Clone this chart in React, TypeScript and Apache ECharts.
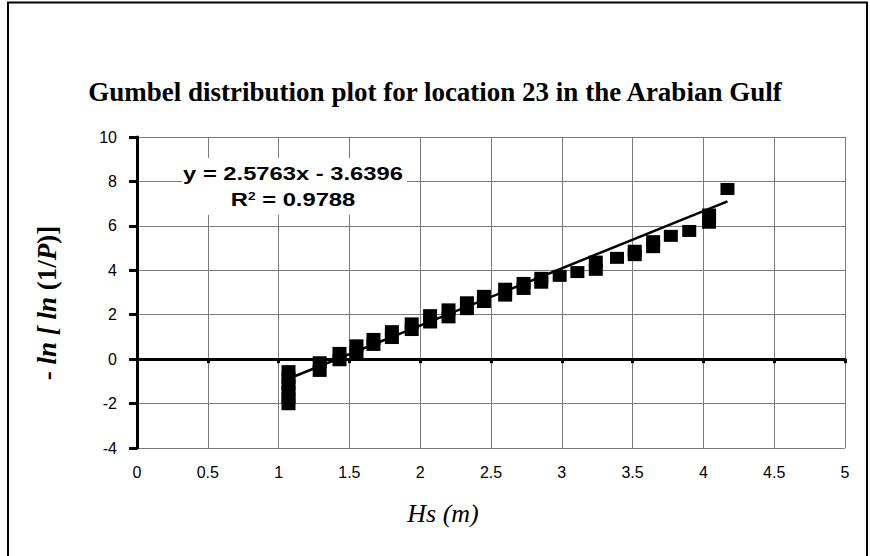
import React, { useEffect, useRef } from "react";
import * as echarts from "echarts";

// ---- data ----
const hsValues = [
  1.07, 1.07, 1.07, 1.07, 1.07, 1.07,
  1.29, 1.29, 1.43, 1.43, 1.55, 1.55, 1.67, 1.67, 1.8, 1.8,
  1.94, 1.94, 2.07, 2.07, 2.2, 2.2, 2.33, 2.33, 2.45, 2.45,
  2.6, 2.6, 2.73, 2.73, 2.855, 2.855, 2.985, 3.11, 3.24, 3.24,
  3.39, 3.515, 3.515, 3.645, 3.645, 3.77, 3.9, 4.04, 4.04, 4.17,
];
const gumbelValues = [
  -0.54, -0.85, -1.15, -1.45, -1.75, -2.03,
  -0.14, -0.53, 0.28, -0.05, 0.62, 0.26, 0.91, 0.64, 1.26, 0.95,
  1.61, 1.31, 1.98, 1.65, 2.24, 1.88, 2.56, 2.25, 2.85, 2.57,
  3.17, 2.86, 3.43, 3.16, 3.66, 3.44, 3.75, 3.92, 4.39, 4.02,
  4.56, 4.88, 4.68, 5.31, 5.04, 5.55, 5.77, 6.51, 6.14, 7.66,
];
const trendSlope = 2.5763;
const trendIntercept = -3.6396;
const trendXRange = [1.07, 4.17];
const equationText = "y = 2.5763x - 3.6396";
const r2Value = "0.9788";
const xAxisTicks = { min: 0, max: 5, step: 0.5 };
const yAxisTicks = { min: -4, max: 10, step: 2 };
const titleText = "Gumbel distribution plot for location 23 in the Arabian Gulf";
const xAxisName = "Hs (m)";

const SANS = "'Liberation Sans', Arial, sans-serif";
const SERIF = "'Liberation Serif', 'Times New Roman', serif";

export default function App() {
  const ref = useRef<HTMLDivElement>(null);

  useEffect(() => {
    if (!ref.current) return;
    const chart = echarts.init(ref.current, undefined, { renderer: "svg" });

    const points = hsValues.map((x, i) => [x, gumbelValues[i]]);
    const trend = trendXRange.map((x) => [x, trendSlope * x + trendIntercept]);

    chart.setOption({
      animation: false,
      backgroundColor: "#ffffff",
      title: {
        text: titleText,
        left: "center",
        top: 78,
        padding: 0,
        textStyle: {
          fontFamily: SERIF,
          fontWeight: "bold",
          fontSize: 27,
          color: "#000",
        },
      },
      grid: {
        left: 137,
        top: 137,
        right: 25,
        bottom: 108,
        containLabel: false,
      },
      xAxis: [
        {
          type: "value",
          min: xAxisTicks.min,
          max: xAxisTicks.max,
          interval: xAxisTicks.step,
          position: "bottom",
          axisLine: { show: false, onZero: false },
          axisTick: { show: false },
          axisLabel: {
            margin: 16,
            fontFamily: SANS,
            fontSize: 16,
            color: "#000",
          },
          splitLine: { show: true, lineStyle: { color: "#7a7a7a", width: 1 } },
        },
        {
          type: "value",
          min: xAxisTicks.min,
          max: xAxisTicks.max,
          interval: xAxisTicks.step,
          position: "bottom",
          axisLine: { show: true, onZero: true, lineStyle: { color: "#000", width: 3 } },
          axisTick: { show: true, inside: false, length: 4, lineStyle: { color: "#000", width: 3 } },
          axisLabel: { show: false },
          splitLine: { show: false },
        },
      ],
      yAxis: {
        type: "value",
        min: yAxisTicks.min,
        max: yAxisTicks.max,
        interval: yAxisTicks.step,
        axisLine: { show: true, onZero: false, lineStyle: { color: "#000", width: 3 } },
        axisTick: { show: true, inside: false, length: 8, lineStyle: { color: "#000", width: 3 } },
        axisLabel: {
          margin: 20,
          fontFamily: SANS,
          fontSize: 16,
          color: "#000",
        },
        splitLine: { show: true, lineStyle: { color: "#7a7a7a", width: 1 } },
      },
      series: [
        {
          type: "scatter",
          data: points,
          symbol: "rect",
          symbolSize: [14, 12],
          itemStyle: { color: "#000", opacity: 1 },
          z: 3,
        },
        {
          type: "line",
          data: trend,
          showSymbol: false,
          symbol: "none",
          lineStyle: { color: "#000", width: 2.5 },
          z: 4,
        },
      ],
      graphic: [
        {
          type: "polyline",
          shape: { points: [[8, 556], [8, 2.5], [867, 2.5], [867, 556]] },
          style: { stroke: "#000", lineWidth: 2, fill: null },
          silent: true,
        },
        {
          type: "rect",
          z: 100,
          shape: { x: 182, y: 158, width: 225, height: 57 },
          style: { fill: "#fff" },
          silent: true,
        },
        {
          type: "text",
          z: 101,
          x: 293,
          y: 174,
          scaleX: 1.25,
          style: {
            text: equationText,
            fontFamily: SANS,
            fontWeight: "bold",
            fontSize: 19,
            fill: "#000",
            align: "center",
            verticalAlign: "middle",
          },
        },
        {
          type: "text",
          z: 101,
          x: 293,
          y: 200,
          scaleX: 1.25,
          style: {
            text: "{b|R}{sup|2}{b| = " + r2Value + "}",
            align: "center",
            verticalAlign: "middle",
            rich: {
              b: { fontFamily: SANS, fontWeight: "bold", fontSize: 19, fill: "#000" },
              sup: { fontFamily: SANS, fontWeight: "bold", fontSize: 11, fill: "#000", verticalAlign: "top" },
            },
          },
        },
        {
          type: "text",
          x: 47,
          y: 303,
          rotation: Math.PI / 2,
          style: {
            text: "{b|- }{bi|ln [ ln }{b|(1/}{bi|P}{b|)]}",
            align: "center",
            verticalAlign: "middle",
            rich: {
              b: { fontFamily: SERIF, fontWeight: "bold", fontSize: 27, fill: "#000" },
              bi: { fontFamily: SERIF, fontWeight: "bold", fontStyle: "italic", fontSize: 27, fill: "#000" },
            },
          },
        },
        {
          type: "text",
          x: 443,
          y: 513,
          style: {
            text: xAxisName,
            fontFamily: SERIF,
            fontStyle: "italic",
            fontSize: 26,
            fill: "#000",
            align: "center",
            verticalAlign: "middle",
          },
        },
      ],
    });

    return () => chart.dispose();
  }, []);

  return (
    <div
      ref={ref}
      style={{ position: "fixed", left: 0, top: 0, width: 870, height: 556, background: "#fff" }}
    />
  );
}
